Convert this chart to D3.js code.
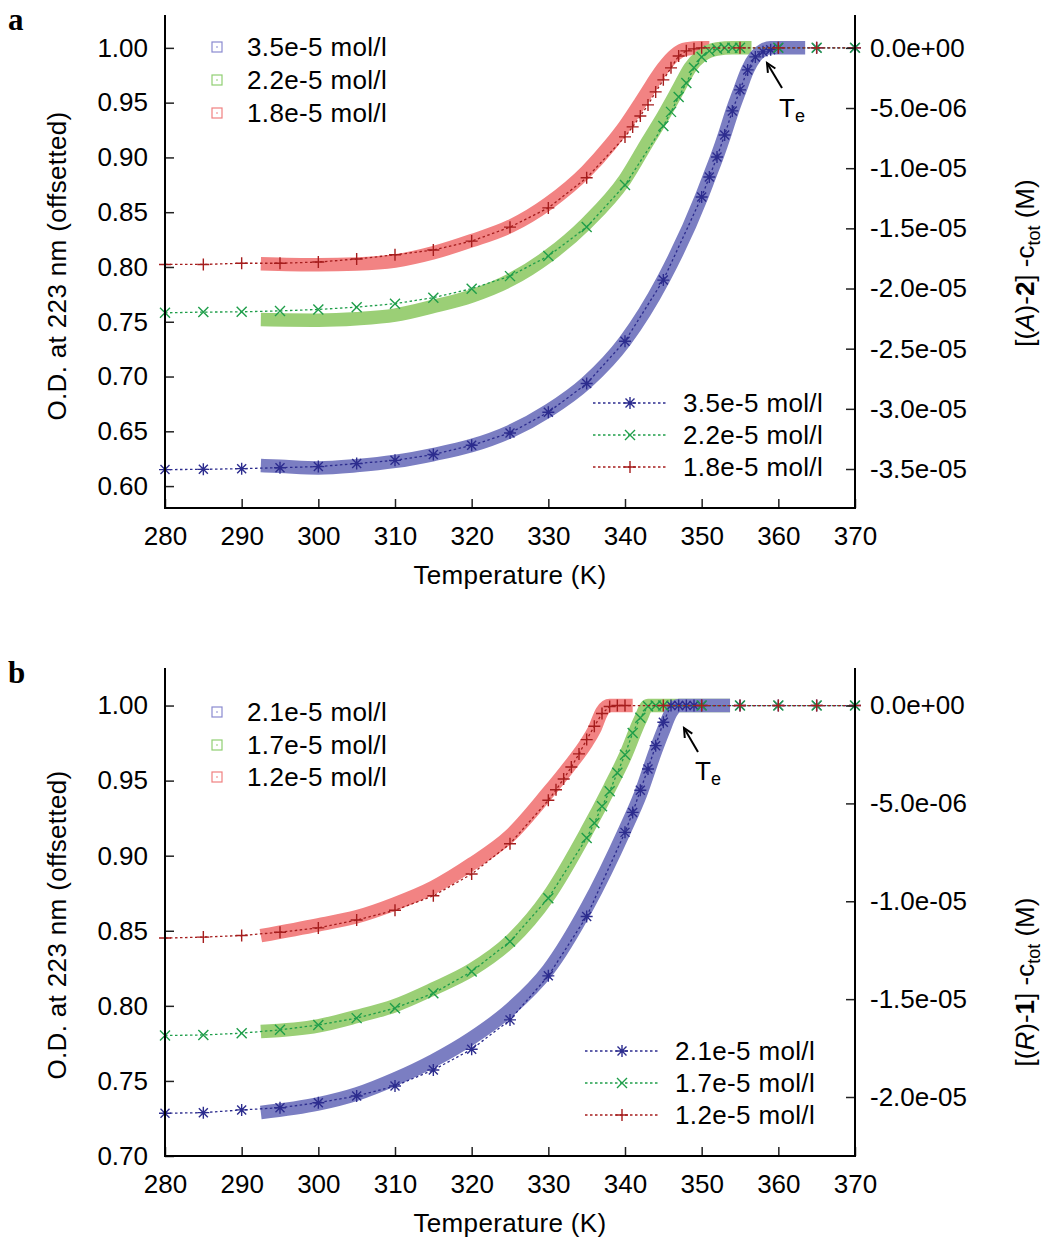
<!DOCTYPE html>
<html><head><meta charset="utf-8">
<script src="https://cdn.jsdelivr.net/npm/d3@7"></script>
<style>body{margin:0;background:#fff}</style>
</head><body>
<script>
// ---------------- DATA ----------------
const xTicks = [280,290,300,310,320,330,340,350,360,370];

// Panel a
const aLeftTicks = [0.60,0.65,0.70,0.75,0.80,0.85,0.90,0.95,1.00];
const aRightTickVals = [0,-5e-6,-1e-5,-1.5e-5,-2e-5,-2.5e-5,-3e-5,-3.5e-5];
const aRightTickLabels = ["0.0e+00","-5.0e-06","-1.0e-05","-1.5e-05","-2.0e-05","-2.5e-05","-3.0e-05","-3.5e-05"];
const aSeriesNames = ["3.5e-5 mol/l","2.2e-5 mol/l","1.8e-5 mol/l"];

// experimental bands (O.D.)
const bandA35T = [292.5,295,300,305,310,315,320,325,330,335,340,345,350,351,352,353,354,355,356,357,358,359,363.5];
const bandA35  = [0.6187,0.618,0.6166,0.6187,0.6225,0.6288,0.637,0.6498,0.6688,0.6946,0.7325,0.7887,0.8643,0.8825,0.9007,0.9208,0.9426,0.9617,0.980,0.992,0.998,1.0,1.0];
const bandA22T = [292.5,300,305,310,315,320,325,330,335,340,343,345,347,348.5,350,352,354,356.5];
const bandA22  = [0.752,0.7514,0.7527,0.756,0.764,0.7735,0.788,0.810,0.840,0.880,0.915,0.938,0.963,0.982,0.993,0.999,1.0,1.0];
const bandA18T = [292.5,300,305,310,315,320,325,330,335,338,340,342,343,344,345,346.5,348,350,351];
const bandA18  = [0.803,0.802,0.8027,0.8055,0.813,0.824,0.837,0.858,0.8875,0.911,0.929,0.950,0.961,0.972,0.982,0.9936,0.999,1.0,1.0];

// model (right axis, M)
const modelA35T = [280,285,290,295,300,305,310,315,320,325,330,335,340,345,350,351,352,353,354,355,356,357,358,359,360,365,370];
const modelA35  = [-3.505e-5,-3.503e-5,-3.497e-5,-3.489e-5,-3.480e-5,-3.455e-5,-3.428e-5,-3.380e-5,-3.303e-5,-3.201e-5,-3.028e-5,-2.790e-5,-2.438e-5,-1.930e-5,-1.240e-5,-1.073e-5,-0.907e-5,-0.724e-5,-0.524e-5,-0.349e-5,-0.183e-5,-0.075e-5,-0.033e-5,-0.015e-5,0,0,0];
const modelA22T = [280,285,290,295,300,305,310,315,320,325,330,335,340,345,346,347,348,349,350,351,352,353,354,355,360,365,370];
const modelA22  = [-2.202e-5,-2.196e-5,-2.194e-5,-2.186e-5,-2.174e-5,-2.155e-5,-2.126e-5,-2.076e-5,-2.001e-5,-1.897e-5,-1.730e-5,-1.489e-5,-1.140e-5,-0.649e-5,-0.532e-5,-0.408e-5,-0.291e-5,-0.166e-5,-0.075e-5,-0.025e-5,-0.008e-5,0,0,0,0,0,0];
const modelA18T = [280,285,290,295,300,305,310,315,320,325,330,335,340,341,342,343,344,345,346,347,348,349,350,355,360,365,370];
const modelA18  = [-1.80e-5,-1.80e-5,-1.79e-5,-1.79e-5,-1.78e-5,-1.755e-5,-1.72e-5,-1.68e-5,-1.606e-5,-1.49e-5,-1.33e-5,-1.08e-5,-0.74e-5,-0.657e-5,-0.566e-5,-0.474e-5,-0.366e-5,-0.266e-5,-0.166e-5,-0.067e-5,-0.025e-5,-0.008e-5,0,0,0,0,0];

// Panel b
const bLeftTicks = [0.70,0.75,0.80,0.85,0.90,0.95,1.00];
const bRightTickVals = [0,-5e-6,-1e-5,-1.5e-5,-2e-5];
const bRightTickLabels = ["0.0e+00","-5.0e-06","-1.0e-05","-1.5e-05","-2.0e-05"];
const bSeriesNames = ["2.1e-5 mol/l","1.7e-5 mol/l","1.2e-5 mol/l"];

const bandB21T = [292.5,300,305,310,315,320,325,330,335,340,342,344,345,346,347,350,353.7];
const bandB21  = [0.729,0.7347,0.7413,0.7513,0.7635,0.7785,0.7975,0.824,0.8653,0.9173,0.9407,0.97,0.9833,0.9953,1.0,1.0,1.0];
const bandB17T = [292.5,300,305,310,315,320,325,330,335,338,340,342,343,346,353.7];
const bandB17  = [0.7829,0.7867,0.7929,0.8002,0.8113,0.824,0.8429,0.8729,0.9162,0.9453,0.966,0.9907,1.0,1.0,1.0];
const bandB12T = [292.5,300,305,310,315,320,325,330,332.6,335,336,337,338,341];
const bandB12  = [0.8467,0.854,0.8593,0.868,0.879,0.8945,0.9133,0.9423,0.9587,0.9753,0.984,0.996,1.0,1.0];

const modelB21T = [280,285,290,295,300,305,310,315,320,325,330,335,340,341,342,343,344,345,346,347,348,349,350,355,360,365,370];
const modelB21  = [-2.083e-5,-2.080e-5,-2.066e-5,-2.055e-5,-2.029e-5,-1.995e-5,-1.944e-5,-1.862e-5,-1.756e-5,-1.606e-5,-1.381e-5,-1.078e-5,-0.648e-5,-0.546e-5,-0.433e-5,-0.324e-5,-0.205e-5,-0.085e-5,0,0,0,0,0,0,0,0,0];
const modelB17T = [280,285,290,295,300,305,310,315,320,325,330,335,336,337,338,339,340,341,342,343,344,345,350,355,360,365,370];
const modelB17  = [-1.686e-5,-1.683e-5,-1.674e-5,-1.657e-5,-1.632e-5,-1.597e-5,-1.546e-5,-1.470e-5,-1.359e-5,-1.206e-5,-0.984e-5,-0.677e-5,-0.600e-5,-0.515e-5,-0.438e-5,-0.344e-5,-0.251e-5,-0.140e-5,-0.063e-5,-0.004e-5,0,0,0,0,0,0,0];
const modelB12T = [280,285,290,295,300,305,310,315,320,325,330,331,332,333,334,335,336,337,338,339,340,345,350,355,360,365,370];
const modelB12  = [-1.188e-5,-1.183e-5,-1.175e-5,-1.158e-5,-1.136e-5,-1.096e-5,-1.046e-5,-0.972e-5,-0.861e-5,-0.706e-5,-0.484e-5,-0.430e-5,-0.375e-5,-0.314e-5,-0.247e-5,-0.174e-5,-0.106e-5,-0.041e-5,-0.005e-5,0,0,0,0,0,0,0,0];

// ---------------- STYLE ----------------
const FONT = "'Liberation Sans', Arial, Helvetica, sans-serif";
const FS = 26;
const LS = "0.35px";
const bandColors = ["#7b7ec2","#9bcf76","#f28383"];
const legendSq = ["#8a8ad0","#90cf72","#f08080"];
const lineColors = ["#2c2c8e","#1f9e4a","#a51d1d"];
const markerTypes = ["star","x","plus"];

const W = 1047, H = 1238;
const svg = d3.select("body").append("svg").attr("width",W).attr("height",H)
  .style("background","#fff");

function marker(g, type, cx, cy, color){
  const s = 6, d = 5;
  let p;
  if(type==="plus") p = `M${cx-s},${cy}H${cx+s}M${cx},${cy-s}V${cy+s}`;
  else if(type==="x") p = `M${cx-d},${cy-d}L${cx+d},${cy+d}M${cx-d},${cy+d}L${cx+d},${cy-d}`;
  else p = `M${cx-s},${cy}H${cx+s}M${cx},${cy-s}V${cy+s}M${cx-d+0.5},${cy-d+0.5}L${cx+d-0.5},${cy+d-0.5}M${cx-d+0.5},${cy+d-0.5}L${cx+d-0.5},${cy-d+0.5}`;
  g.append("path").attr("d",p).attr("stroke",color).attr("stroke-width",1.4).attr("fill","none");
}

function drawPanel(P){
  const g = svg.append("g");
  const x = d3.scaleLinear().domain([280,370]).range([165,855]);
  const yL = d3.scaleLinear().domain(P.leftDomain).range([P.bottom,P.top]);
  const yR = d3.scaleLinear().domain([P.rightTickVals[P.rightTickVals.length-1],0]).range([P.rBottomPix, yL(1.0)]);

  // bands
  const bandLine = d3.line().x(d=>x(d[0])).y(d=>yL(d[1])).curve(d3.curveMonotoneX);
  [2,1,0].forEach(i=>{
    const pts = P.bandT[i].map((t,k)=>[t,P.band[i][k]]);
    g.append("path").attr("d",bandLine(pts)).attr("fill","none")
      .attr("stroke",bandColors[i]).attr("stroke-width",13.5)
      .attr("stroke-linejoin","round").attr("stroke-linecap","butt");
  });
  // model
  const mLine = d3.line().x(d=>x(d[0])).y(d=>yR(d[1]));
  [0,1,2].forEach(i=>{
    const pts = P.modelT[i].map((t,k)=>[t,P.model[i][k]]);
    g.append("path").attr("d",mLine(pts)).attr("fill","none")
      .attr("stroke",lineColors[i]).attr("stroke-width",1.3).attr("stroke-dasharray","2.5,2.5");
    pts.forEach(pt=>marker(g,markerTypes[i],x(pt[0]),yR(pt[1]),lineColors[i]));
  });

  // axes
  const styleAxis = a => { a.select(".domain").remove();
    a.attr("font-size",FS).attr("font-family",FONT);
    a.selectAll("line").attr("stroke","#222").attr("stroke-width",1.5);
    a.selectAll("text").attr("fill","#000"); };
  g.append("g").attr("transform","translate(165,0)")
    .call(d3.axisLeft(yL).tickValues(P.leftTicks).tickFormat(d3.format(".2f")).tickSize(-9).tickPadding(17))
    .call(styleAxis);
  g.append("g").attr("transform","translate(855,0)")
    .call(d3.axisRight(yR).tickValues(P.rightTickVals).tickFormat((d,i)=>P.rightTickLabels[i]).tickSize(-9).tickPadding(15))
    .call(styleAxis);
  g.append("g").attr("transform",`translate(0,${P.bottom})`)
    .call(d3.axisBottom(x).tickValues(xTicks).tickSize(-9).tickPadding(19))
    .call(styleAxis);
  // frame lines
  const fr = `M165,${P.top}V${P.bottom}H855V${P.top}`;
  g.append("path").attr("d",fr).attr("fill","none").attr("stroke","#000").attr("stroke-width",2);

  // titles
  g.append("text").attr("x",510).attr("y",P.bottom+76).attr("text-anchor","middle")
    .attr("font-family",FONT).attr("font-size",FS).attr("letter-spacing",LS).text("Temperature (K)");
  g.append("text").attr("transform",`translate(66,${P.leftTitleY}) rotate(-90)`).attr("text-anchor","middle")
    .attr("font-family",FONT).attr("font-size",FS).attr("letter-spacing",LS).text("O.D. at 223 nm (offsetted)");
  const rt = g.append("text").attr("transform",`translate(1034,${P.rightTitleY}) rotate(-90)`).attr("text-anchor","middle")
    .attr("font-family",FONT).attr("font-size",FS);
  rt.append("tspan").text("[(");
  rt.append("tspan").attr("font-style","italic").text(P.rtLetter);
  rt.append("tspan").text(")-");
  rt.append("tspan").attr("font-weight","bold").text(P.rtNum);
  rt.append("tspan").text("] -c");
  rt.append("tspan").attr("font-size",18).attr("dy",6).text("tot");
  rt.append("tspan").attr("dy",-6).text(" (M)");

  // panel letter
  g.append("text").attr("x",8).attr("y",P.letterY).attr("font-family","'Liberation Serif', 'Times New Roman', serif")
    .attr("font-weight","bold").attr("font-size",31).text(P.letter);

  // top legend (experimental)
  P.topLegY.forEach((ly,i)=>{
    g.append("rect").attr("x",212).attr("y",ly-5).attr("width",10).attr("height",10)
      .attr("fill","none").attr("stroke",legendSq[i]).attr("stroke-width",1.2);
    g.append("rect").attr("x",216.3).attr("y",ly-0.7).attr("width",1.4).attr("height",1.4).attr("fill",legendSq[i]);
    g.append("text").attr("x",247).attr("y",ly+9).attr("font-family",FONT).attr("font-size",FS)
      .attr("letter-spacing",LS).text(P.names[i]);
  });
  // bottom legend (model)
  P.botLegY.forEach((ly,i)=>{
    g.append("line").attr("x1",P.botLegX0).attr("x2",P.botLegX0+75).attr("y1",ly).attr("y2",ly)
      .attr("stroke",lineColors[i]).attr("stroke-width",1.3).attr("stroke-dasharray","2.5,2.5");
    marker(g,markerTypes[i],P.botLegX0+37,ly,lineColors[i]);
    g.append("text").attr("x",P.botLegX0+90).attr("y",ly+9).attr("font-family",FONT).attr("font-size",FS)
      .attr("letter-spacing",LS).text(P.names[i]);
  });

  // Te annotation
  const A = P.te;
  g.append("path").attr("d",`M${A.x1},${A.y1}L${A.x2},${A.y2}`).attr("stroke","#000").attr("stroke-width",2).attr("fill","none");
  const ang = Math.atan2(A.y2-A.y1, A.x2-A.x1);
  const hl = 10, ha = 0.45;
  const hp = `M${A.x2-hl*Math.cos(ang-ha)},${A.y2-hl*Math.sin(ang-ha)}L${A.x2},${A.y2}L${A.x2-hl*Math.cos(ang+ha)},${A.y2-hl*Math.sin(ang+ha)}`;
  g.append("path").attr("d",hp).attr("stroke","#000").attr("stroke-width",2).attr("fill","none");
  const tt = g.append("text").attr("x",A.tx).attr("y",A.ty).attr("font-family",FONT).attr("font-size",FS);
  tt.append("tspan").text("T");
  tt.append("tspan").attr("font-size",18).attr("dy",5).text("e");
}

drawPanel({
  letter:"a", letterY:30, top:15, bottom:508, leftDomain:[0.58,1.03], rBottomPix:469,
  leftTicks:aLeftTicks, rightTickVals:aRightTickVals, rightTickLabels:aRightTickLabels,
  bandT:[bandA35T,bandA22T,bandA18T], band:[bandA35,bandA22,bandA18],
  modelT:[modelA35T,modelA22T,modelA18T], model:[modelA35,modelA22,modelA18],
  names:aSeriesNames, leftTitleY:266, rightTitleY:263, rtLetter:"A", rtNum:"2",
  topLegY:[47,80,113], botLegY:[403,435,467], botLegX0:593,
  te:{x1:782,y1:88,x2:767,y2:63,tx:779,ty:117}
});
drawPanel({
  letter:"b", letterY:683, top:668, bottom:1156, leftDomain:[0.70,1.025], rBottomPix:1097,
  leftTicks:bLeftTicks, rightTickVals:bRightTickVals, rightTickLabels:bRightTickLabels,
  bandT:[bandB21T,bandB17T,bandB12T], band:[bandB21,bandB17,bandB12],
  modelT:[modelB21T,modelB17T,modelB12T], model:[modelB21,modelB17,modelB12],
  names:bSeriesNames, leftTitleY:925, rightTitleY:982, rtLetter:"R", rtNum:"1",
  topLegY:[712,745,777], botLegY:[1051,1083,1115], botLegX0:585,
  te:{x1:698,y1:752,x2:684,y2:728,tx:695,ty:780}
});
</script>
</body></html>
